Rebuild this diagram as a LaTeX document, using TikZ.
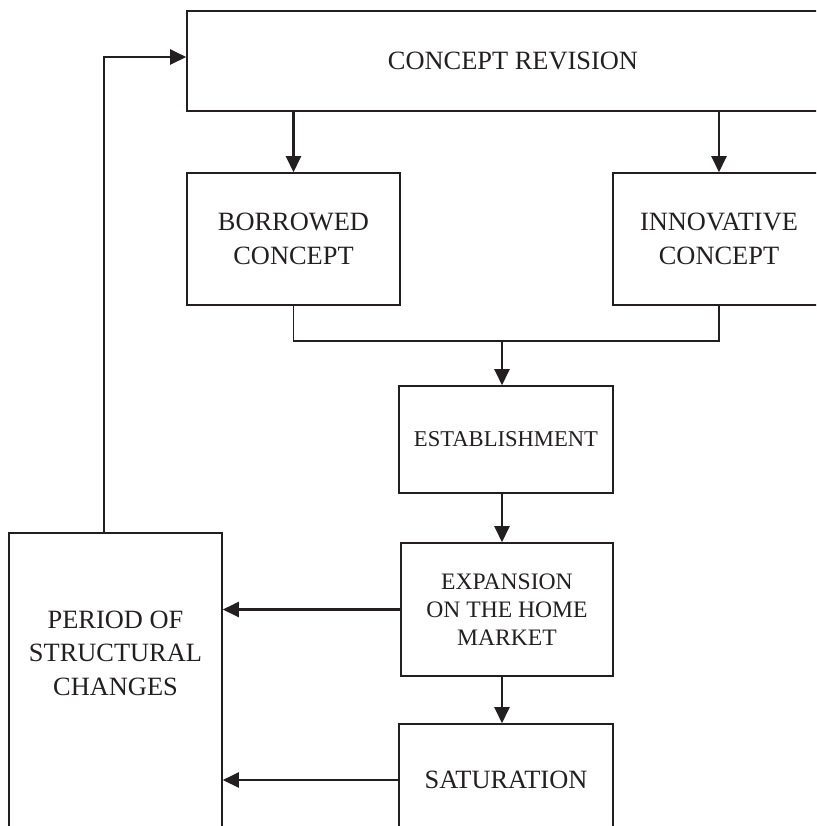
\documentclass[tikz,border=0pt]{standalone}
\usepackage{fontspec}
\setmainfont{Liberation Serif}
\usepackage{tikz}
\usetikzlibrary{arrows.meta}
\definecolor{ink}{HTML}{231F20}
\tikzstyle{stage} = [rectangle, draw=ink, line width=0.8pt, text=ink, text centered, align=center, inner sep=0pt, font=\fontsize{13.2}{16.7}\selectfont]
\tikzstyle{line} = [draw=ink, line width=0.8pt]
\tikzstyle{arrow} = [draw=ink, line width=1.2pt, -{Triangle[length=8pt,width=7.5pt]}]

\begin{document}
\begin{tikzpicture}[x=0.5pt, y=-0.5pt]
\useasboundingbox (0,0) rectangle (816,826);
\clip (0,0) rectangle (816,826);
% NODES
\node (revision) [stage, minimum width=326pt, minimum height=50pt] at (513,61) {CONCEPT REVISION};

\node (borrowed) [stage, minimum width=106.5pt, minimum height=66pt] at (293.5,239) {BORROWED\\CONCEPT};
\node (innovative) [stage, minimum width=106pt, minimum height=66pt] at (719,239) {INNOVATIVE\\CONCEPT};

\node (establishment) [stage, minimum width=107pt, minimum height=53.5pt, font=\fontsize{11.3}{14}\selectfont] at (506,439.5) {ESTABLISHMENT};
\node (expansion) [stage, minimum width=106pt, minimum height=66.5pt, font=\fontsize{11.8}{14}\selectfont] at (507,609.5) {EXPANSION\\ON THE HOME\\MARKET};
\node (saturation) [stage, minimum width=107pt, minimum height=56pt] at (506,780) {SATURATION};

\node (period) [stage, minimum width=106.5pt, minimum height=183.5pt] at (115.5,716.5) {};
\node (period-text) [stage, draw=none] at (115.5,653) {PERIOD OF\\STRUCTURAL\\CHANGES};

\coordinate (join) at (502,341);
\coordinate (corner) at (104,57);

% ARROWS
\draw [arrow] (borrowed.north |- revision.south) -- (borrowed.north);
\draw [arrow] (innovative.north |- revision.south) -- (innovative.north);

\draw [line] (borrowed.south) |- (join) -| (innovative.south);
\draw [arrow] (join) -- (join |- establishment.north);

\draw [arrow] (establishment.south -| join) -- (expansion.north -| join);
\draw [arrow] (expansion.south -| join) -- (saturation.north -| join);

\draw [arrow] (expansion.west) -- (expansion.west -| period.east);
\draw [arrow] (saturation.west) -- (saturation.west -| period.east);

\draw [arrow] (corner |- period.north) -- (corner) -- (corner -| revision.west);
\end{tikzpicture}
\end{document}
